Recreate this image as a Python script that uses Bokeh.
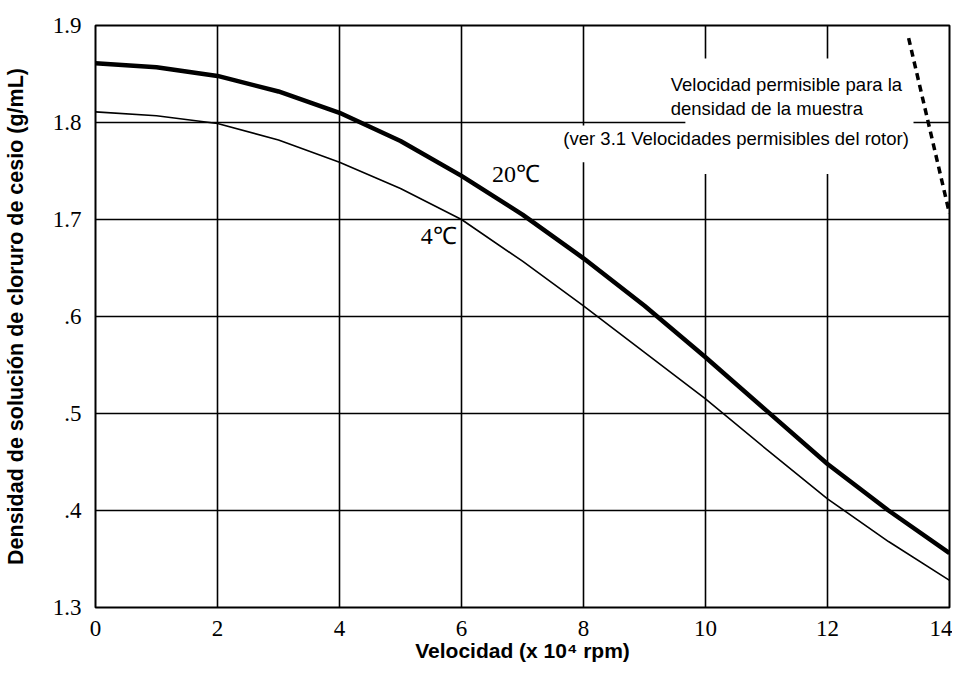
from bokeh.plotting import figure
from bokeh.models import FixedTicker, Label, BoxAnnotation, Range1d
from bokeh.embed import file_html
from bokeh.resources import INLINE

# ---- data ----
speed = [0, 1, 2, 3, 4, 5, 6, 7, 8, 9, 10, 11, 12, 13, 14]
density_20c = [1.861, 1.857, 1.848, 1.832, 1.810, 1.781, 1.745, 1.705,
               1.660, 1.611, 1.558, 1.503, 1.448, 1.400, 1.356]
density_4c = [1.811, 1.807, 1.799, 1.782, 1.759, 1.732, 1.700, 1.657,
              1.611, 1.563, 1.515, 1.463, 1.412, 1.368, 1.328]
limit_speed = [13.33, 14.0]
limit_density = [1.887, 1.706]

x_ticks = [0, 2, 4, 6, 8, 10, 12, 14]
x_tick_labels = ["0", "2", "4", "6", "8", "10", "12", "14"]
y_ticks = [1.3, 1.4, 1.5, 1.6, 1.7, 1.8, 1.9]
y_tick_labels = ["1.3", ".4", ".5", ".6", "1.7", "1.8", "1.9"]

SERIF = "Liberation Serif"
SANS = "Liberation Sans"

p = figure(width=952, height=670, output_backend="svg", toolbar_location=None,
           x_range=Range1d(0, 14), y_range=Range1d(1.3, 1.9),
           min_border_left=95, min_border_right=3, min_border_top=25,
           min_border_bottom=63)

p.background_fill_color = "white"
p.border_fill_color = "white"
p.outline_line_color = "black"
p.outline_line_width = 2

# axes
p.xaxis.ticker = FixedTicker(ticks=x_ticks)
p.xaxis.major_label_overrides = {t: l for t, l in zip(x_ticks, x_tick_labels)}
p.yaxis.ticker = FixedTicker(ticks=y_ticks)
p.yaxis.major_label_overrides = {t: l for t, l in zip(y_ticks, y_tick_labels)}
for ax in (p.xaxis[0], p.yaxis[0]):
    ax.axis_line_color = None
    ax.major_tick_line_color = None
    ax.minor_tick_line_color = None
    ax.major_label_text_font = SERIF
    ax.major_label_text_font_size = "23px"
    ax.major_label_text_color = "black"
    ax.axis_label_text_font = SANS
    ax.axis_label_text_font_style = "bold"
    ax.axis_label_text_color = "black"

p.xaxis.axis_label = "Velocidad (x 10\u2074 rpm)"
p.xaxis.axis_label_text_font_size = "21px"
p.xaxis.major_label_standoff = 7
p.xaxis.axis_label_standoff = 0
p.yaxis.axis_label = "Densidad de solución de cloruro de cesio (g/mL)"
p.yaxis.axis_label_text_font_size = "21.5px"
p.yaxis.major_label_standoff = 8
p.yaxis.axis_label_standoff = 22

# grid
p.xgrid.ticker = FixedTicker(ticks=x_ticks)
p.ygrid.ticker = FixedTicker(ticks=y_ticks)
for g in (p.xgrid[0], p.ygrid[0]):
    g.grid_line_color = "black"
    g.grid_line_width = 1.6
    g.grid_line_alpha = 1.0

# white masks behind the annotation text (interrupt grid lines)
p.add_layout(BoxAnnotation(left=9.67, right=13.41, top=1.866, bottom=1.747,
                           fill_color="white", fill_alpha=1.0, line_color=None,
                           level="underlay"))
p.add_layout(BoxAnnotation(left=7.6, right=13.41, top=1.797, bottom=1.759,
                           fill_color="white", fill_alpha=1.0, line_color=None,
                           level="underlay"))

# curves
p.line(speed, density_20c, line_color="black", line_width=4.5)
p.line(speed, density_4c, line_color="black", line_width=1.6)
p.line(limit_speed, limit_density, line_color="black", line_width=3.5,
       line_dash="7 5")

# curve labels
p.add_layout(Label(x=6.5, y=1.747, text="20\u2103", text_font=SERIF,
                   text_font_size="24px", text_color="black",
                   text_baseline="alphabetic"))
p.add_layout(Label(x=5.33, y=1.683, text="4\u2103", text_font=SERIF,
                   text_font_size="24px", text_color="black",
                   text_baseline="alphabetic"))

# annotation text
note_kw = dict(text_font=SANS, text_font_size="18.5px", text_color="black",
               text_baseline="alphabetic")
p.add_layout(Label(x=9.43, y=1.839, text="Velocidad permisible para la", **note_kw))
p.add_layout(Label(x=9.43, y=1.814, text="densidad de la muestra", **note_kw))
p.add_layout(Label(x=7.67, y=1.783,
                   text="(ver 3.1 Velocidades permisibles del rotor)", **note_kw))

open("out.html", "w").write(file_html(p, INLINE))
